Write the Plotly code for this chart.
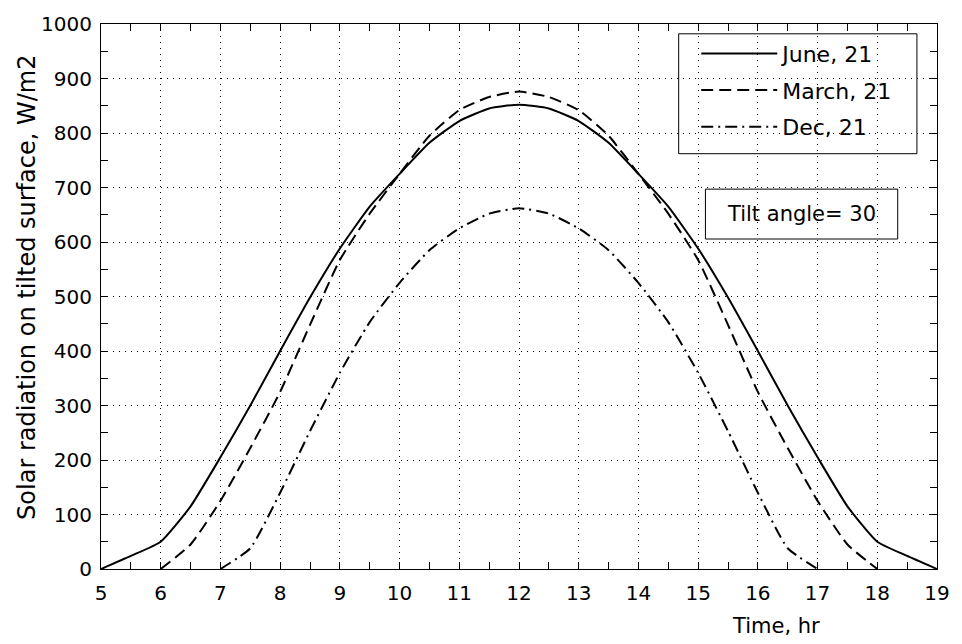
import plotly.graph_objects as go

# Hours (half-hour steps)
hours = [5, 5.5, 6, 6.5, 7, 7.5, 8, 8.5, 9, 9.5, 10, 10.5, 11, 11.5, 12,
         12.5, 13, 13.5, 14, 14.5, 15, 15.5, 16, 16.5, 17, 17.5, 18, 18.5, 19]

june = [0, 24, 50, 115, 205, 300, 400, 498, 588, 665, 725, 782, 822, 845, 852,
        845, 822, 782, 725, 665, 588, 498, 400, 300, 205, 115, 50, 24, 0]

march_hours = [6, 6.5, 7, 7.5, 8, 8.5, 9, 9.5, 10, 10.5, 11, 11.5, 12,
               12.5, 13, 13.5, 14, 14.5, 15, 15.5, 16, 16.5, 17, 17.5, 18]
march = [0, 45, 125, 222, 325, 448, 567, 652, 725, 795, 842, 866, 876,
         866, 842, 795, 725, 652, 567, 448, 325, 222, 125, 45, 0]

dec_hours = [7, 7.5, 8, 8.5, 9, 9.5, 10, 10.5, 11, 11.5, 12,
             12.5, 13, 13.5, 14, 14.5, 15, 15.5, 16, 16.5, 17]
dec = [0, 38, 140, 253, 360, 453, 525, 585, 625, 652, 662,
       652, 625, 585, 525, 453, 360, 253, 140, 38, 0]

series_names = ["June, 21", "March, 21", "Dec, 21"]
x_ticks = list(range(5, 20))
y_ticks = list(range(0, 1001, 100))

FONT = "DejaVu Sans"

fig = go.Figure()
fig.add_trace(go.Scatter(x=hours, y=june, mode="lines", name=series_names[0],
                         legendgroup="a",
                         line=dict(color="black", width=2, dash="solid", shape="spline", smoothing=0.5)))
fig.add_trace(go.Scatter(x=march_hours, y=march, mode="lines", name=series_names[1],
                         legendgroup="b",
                         line=dict(color="black", width=2, dash="12px,6px", shape="spline", smoothing=0.5)))
fig.add_trace(go.Scatter(x=dec_hours, y=dec, mode="lines", name=series_names[2],
                         legendgroup="c",
                         line=dict(color="black", width=2, dash="12px,5px,2px,5px", shape="spline", smoothing=0.5)))

axis_common = dict(
    showline=True, linecolor="black", linewidth=1, mirror="allticks",
    ticks="inside", ticklen=7, tickcolor="black", tickwidth=1,
    showgrid=True, gridcolor="black", gridwidth=1, griddash="1px,5px",
    zeroline=False,
    tickfont=dict(family=FONT, size=20, color="black"),
)

fig.update_xaxes(range=[5, 19], tickvals=x_ticks, ticktext=[str(v) for v in x_ticks],
                 minor=dict(dtick=0.5, tick0=5, ticks="inside", ticklen=7, tickcolor="black", showgrid=False),
                 ticklabelstandoff=6, **axis_common)
fig.update_yaxes(range=[0, 1000], tickvals=y_ticks, ticktext=[str(v) for v in y_ticks],
                 minor=dict(dtick=50, tick0=0, ticks="inside", ticklen=7, tickcolor="black", showgrid=False),
                 ticklabelstandoff=4, **axis_common)

# legend frame (white box covering the grid)
fig.add_shape(type="rect", xref="paper", yref="paper", x0=0.691, x1=0.976, y0=0.762, y1=0.982,
              line=dict(color="black", width=1), fillcolor="white", layer="below")
# tilt-angle box
fig.add_shape(type="rect", xref="paper", yref="paper", x0=0.723, x1=0.953, y0=0.6055, y1=0.697,
              line=dict(color="black", width=1), fillcolor="rgba(0,0,0,0)")
fig.add_annotation(text="Tilt angle= 30", xref="paper", yref="paper", x=0.838, y=0.651,
                   showarrow=False, font=dict(family=FONT, size=21, color="black"),
                   xanchor="center", yanchor="middle")
fig.add_annotation(text="Time, hr", xref="paper", yref="paper", x=0.807, y=-0.105,
                   showarrow=False, font=dict(family=FONT, size=21, color="black"),
                   xanchor="center", yanchor="middle")
fig.add_annotation(text="Solar radiation on tilted surface, W/m2", xref="paper", yref="paper",
                   x=-0.0884, y=0.516, textangle=-90, showarrow=False,
                   font=dict(family=FONT, size=24, color="black"),
                   xanchor="center", yanchor="middle")

fig.update_layout(
    width=962, height=644,
    margin=dict(l=101, r=13, t=24, b=75),
    paper_bgcolor="white", plot_bgcolor="white",
    showlegend=True,
    legend=dict(x=0.712, xanchor="left", y=0.984, yanchor="top",
                bgcolor="rgba(0,0,0,0)", borderwidth=0,
                font=dict(family=FONT, size=22, color="black"),
                itemwidth=76, tracegroupgap=5, traceorder="grouped"),
)

fig.write_html("out.html")
